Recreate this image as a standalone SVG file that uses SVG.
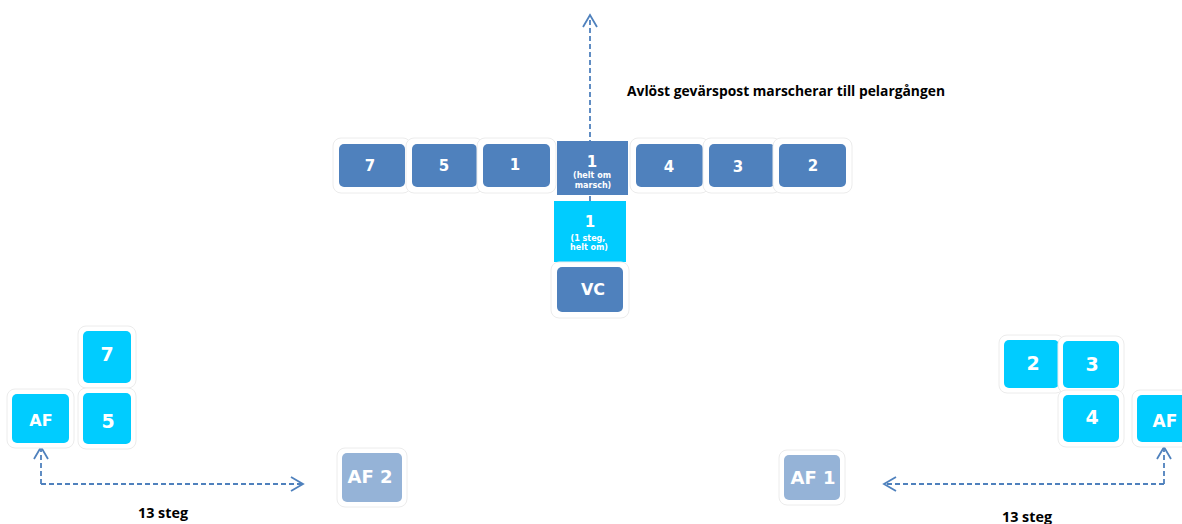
<svg xmlns="http://www.w3.org/2000/svg" width="1182" height="524" viewBox="0 0 1182 524">
<style>
.halo{fill:#ffffff;stroke:#ececec;stroke-width:1}
.dk{fill:#4F81BD}
.cy{fill:#00CCFF}
.lt{fill:#95B3D7}
.lbl{font-family:"DejaVu Sans",Verdana,sans-serif;font-weight:bold;fill:#ffffff;text-anchor:middle}
.sm{font-family:"DejaVu Sans",Verdana,sans-serif;font-weight:bold;fill:#ffffff;text-anchor:middle;font-size:8px}
.cap{font-family:"Open Sans","Liberation Sans",sans-serif;font-weight:bold;fill:#000000}
.conn{fill:none;stroke:#4F81BD;stroke-width:1.8;stroke-dasharray:5 3}
</style>
<defs>
<marker id="open" markerUnits="userSpaceOnUse" viewBox="0 0 16 16" refX="14" refY="8" markerWidth="16" markerHeight="16" orient="auto">
<path d="M2,1 L14,8 L2,15" fill="none" stroke="#4F81BD" stroke-width="1.8"/>
</marker>
</defs>
<rect width="1182" height="524" fill="#ffffff"/>

<g id="connectors">
<path class="conn" d="M590,201 L590,15" marker-end="url(#open)"/>
<path class="conn" d="M41,484 L41,447" marker-end="url(#open)"/>
<path class="conn" d="M41,484 L303,484" marker-end="url(#open)"/>
<path class="conn" d="M1164,484 L1164,447" marker-end="url(#open)"/>
<path class="conn" d="M1164,484 L884,484" marker-end="url(#open)"/>
</g>

<g id="top-7"><rect class="halo" x="333" y="138" width="78" height="55" rx="8"/><rect class="dk" x="339" y="144" width="66" height="43" rx="5"/><text class="lbl" x="370" y="171" font-size="15">7</text></g>
<g id="top-5"><rect class="halo" x="406" y="138" width="77" height="55" rx="8"/><rect class="dk" x="412" y="144" width="65" height="43" rx="5"/><text class="lbl" x="444" y="171" font-size="15">5</text></g>
<g id="top-1"><rect class="halo" x="477" y="138" width="79" height="55" rx="8"/><rect class="dk" x="483" y="144" width="67" height="43" rx="5"/><text class="lbl" x="515" y="170" font-size="15">1</text></g>
<g id="top-1-helt-om"><rect class="dk" x="557" y="141" width="71" height="54"/><text class="lbl" x="592" y="167" font-size="15">1</text><text class="sm" x="592" y="178">(helt om</text><text class="sm" x="593" y="188">marsch)</text></g>
<g id="top-4"><rect class="halo" x="630" y="138" width="79" height="55" rx="8"/><rect class="dk" x="636" y="144" width="67" height="43" rx="5"/><text class="lbl" x="669" y="172" font-size="15">4</text></g>
<g id="top-3"><rect class="halo" x="703" y="138" width="78" height="55" rx="8"/><rect class="dk" x="709" y="144" width="66" height="43" rx="5"/><text class="lbl" x="738" y="172" font-size="15">3</text></g>
<g id="top-2"><rect class="halo" x="773" y="138" width="79" height="55" rx="8"/><rect class="dk" x="779" y="144" width="67" height="43" rx="5"/><text class="lbl" x="813" y="171" font-size="15">2</text></g>

<g id="mid-1-steg"><rect class="cy" x="554" y="201" width="72" height="61"/><text class="lbl" x="590" y="227" font-size="15">1</text><text class="sm" x="588" y="241">(1 steg,</text><text class="sm" x="589" y="250">helt om)</text></g>
<g id="vc"><rect class="halo" x="551" y="262" width="78" height="56" rx="8"/><rect class="dk" x="557" y="267" width="66" height="45" rx="5"/><text class="lbl" x="593" y="295" font-size="16">VC</text></g>

<g id="left-7"><rect class="halo" x="78" y="326" width="58" height="62" rx="8"/><rect class="cy" x="83" y="331" width="48" height="52" rx="5"/><text class="lbl" x="107" y="361" font-size="19">7</text></g>
<g id="left-5"><rect class="halo" x="78" y="388" width="58" height="61" rx="8"/><rect class="cy" x="83" y="393" width="48" height="51" rx="5"/><text class="lbl" x="108" y="428" font-size="19">5</text></g>
<g id="left-af"><rect class="halo" x="7" y="389" width="67" height="59" rx="8"/><rect class="cy" x="12" y="394" width="57" height="49" rx="5"/><text class="lbl" x="41" y="426" font-size="16">AF</text></g>
<g id="af2"><rect class="halo" x="337" y="448" width="70" height="59" rx="8"/><rect class="lt" x="342" y="453" width="60" height="49" rx="5"/><text class="lbl" x="370" y="483" font-size="18">AF 2</text></g>

<g id="right-2"><rect class="halo" x="999" y="335" width="65" height="58" rx="8"/><rect class="cy" x="1004" y="340" width="55" height="48" rx="5"/><text class="lbl" x="1033" y="370" font-size="19">2</text></g>
<g id="right-3"><rect class="halo" x="1058" y="336" width="66" height="57" rx="8"/><rect class="cy" x="1063" y="341" width="56" height="47" rx="5"/><text class="lbl" x="1092" y="371" font-size="19">3</text></g>
<g id="right-4"><rect class="halo" x="1058" y="390" width="66" height="57" rx="8"/><rect class="cy" x="1063" y="395" width="56" height="47" rx="5"/><text class="lbl" x="1092" y="424" font-size="19">4</text></g>
<g id="right-af"><rect class="halo" x="1132" y="390" width="60" height="57" rx="8"/><rect class="cy" x="1137" y="395" width="60" height="47" rx="5"/><text class="lbl" x="1165" y="427" font-size="17">AF</text></g>
<g id="af1"><rect class="halo" x="779" y="450" width="66" height="55" rx="8"/><rect class="lt" x="784" y="455" width="56" height="45" rx="5"/><text class="lbl" x="813" y="484" font-size="18">AF 1</text></g>

<g id="labels">
<text class="cap" x="627" y="96" font-size="15" textLength="318" lengthAdjust="spacingAndGlyphs">Avlöst gevärspost marscherar till pelargången</text>
<text class="cap" x="138" y="518" font-size="14" textLength="50" lengthAdjust="spacingAndGlyphs">13 steg</text>
<text class="cap" x="1002" y="522" font-size="14" textLength="50" lengthAdjust="spacingAndGlyphs">13 steg</text>
</g>
</svg>
